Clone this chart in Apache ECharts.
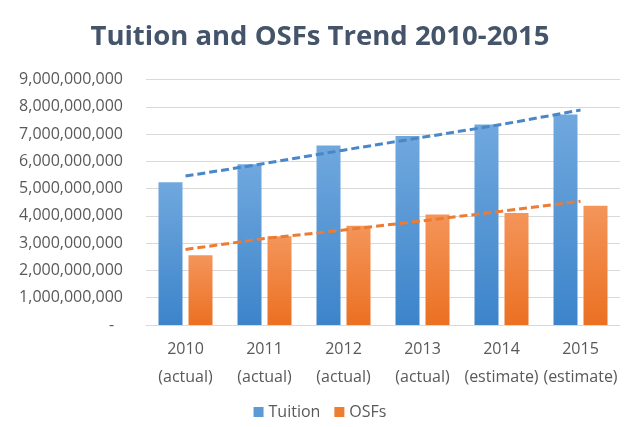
<!DOCTYPE html>
<html>
<head>
<meta charset="utf-8">
<script src="https://cdn.jsdelivr.net/npm/echarts@6/dist/echarts.min.js"></script>
<style>
  html, body { margin: 0; padding: 0; background: #ffffff; }
  #chart { width: 640px; height: 427px; }
</style>
</head>
<body>
<div id="chart"></div>
<script>
const categories = ['2010\n(actual)', '2011\n(actual)', '2012\n(actual)', '2013\n(actual)', '2014\n(estimate)', '2015\n(estimate)'];
const tuition = [5230000000, 5890000000, 6580000000, 6930000000, 7350000000, 7720000000];
const osfs = [2560000000, 3250000000, 3640000000, 4050000000, 4110000000, 4370000000];
const tuitionTrend = [5460000000, 5920000000, 6410000000, 6880000000, 7350000000, 7880000000];
const osfsTrend = [2770000000, 3170000000, 3480000000, 3820000000, 4170000000, 4540000000];
const yTicks = [0, 1000000000, 2000000000, 3000000000, 4000000000, 5000000000, 6000000000, 7000000000, 8000000000, 9000000000];

const FONT = '"Open Sans", "Noto Sans", sans-serif';
const chart = echarts.init(document.getElementById('chart'), null, { renderer: 'canvas' });

const blueGrad = new echarts.graphic.LinearGradient(0, 0, 0, 1, [
  { offset: 0, color: '#70a8de' }, { offset: 1, color: '#3c84ca' }
]);
const orangeGrad = new echarts.graphic.LinearGradient(0, 0, 0, 1, [
  { offset: 0, color: '#f4955a' }, { offset: 1, color: '#eb7022' }
]);

chart.setOption({
  backgroundColor: '#ffffff',
  animation: false,
  title: {
    text: 'Tuition and OSFs Trend 2010-2015',
    left: 'center',
    top: 18,
    textStyle: { fontFamily: FONT, fontWeight: 'bold', fontSize: 27.5, color: '#44546a' }
  },
  legend: {
    data: [
      { name: 'Tuition', itemStyle: { color: '#5b9bd5' } },
      { name: 'OSFs', itemStyle: { color: '#ed7d31' } }
    ],
    bottom: 2,
    left: 'center',
    icon: 'rect',
    itemWidth: 10,
    itemHeight: 10,
    itemGap: 14,
    textStyle: { fontFamily: FONT, fontSize: 16, color: '#595959' }
  },
  grid: { left: 146, right: 20, top: 79.5, bottom: 102 },
  xAxis: {
    type: 'category',
    data: categories,
    axisLine: { show: true, lineStyle: { color: '#d9d9d9' } },
    axisTick: { show: false },
    axisLabel: {
      fontFamily: FONT, fontSize: 16, color: '#595959',
      lineHeight: 28, margin: 10, interval: 0
    }
  },
  yAxis: {
    type: 'value',
    min: yTicks[0],
    max: yTicks[yTicks.length - 1],
    interval: yTicks[1] - yTicks[0],
    axisLine: { show: false },
    axisTick: { show: false },
    splitLine: { lineStyle: { color: '#d9d9d9', width: 1 } },
    axisLabel: {
      fontFamily: FONT, fontSize: 16, color: '#595959', margin: 23,
      formatter: function (v) {
        if (v === 0) return '{d|-}';
        return v.toLocaleString('en-US');
      },
      rich: {
        d: { fontFamily: FONT, fontSize: 16, color: '#595959', width: 14, align: 'left' }
      }
    }
  },
  series: [
    {
      name: 'Tuition', type: 'bar', data: tuition,
      barWidth: 24, barGap: '25%',
      itemStyle: { color: blueGrad }
    },
    {
      name: 'OSFs', type: 'bar', data: osfs,
      barWidth: 24, barGap: '25%',
      itemStyle: { color: orangeGrad }
    },
    {
      name: 'Tuition trend', type: 'line', data: tuitionTrend,
      symbol: 'none', smooth: false, z: 5,
      lineStyle: { color: '#4a87c9', width: 3, type: [8, 4] }
    },
    {
      name: 'OSFs trend', type: 'line', data: osfsTrend,
      symbol: 'none', smooth: false, z: 5,
      lineStyle: { color: '#ec7b34', width: 3, type: [8, 4] }
    }
  ]
});
</script>
</body>
</html>
